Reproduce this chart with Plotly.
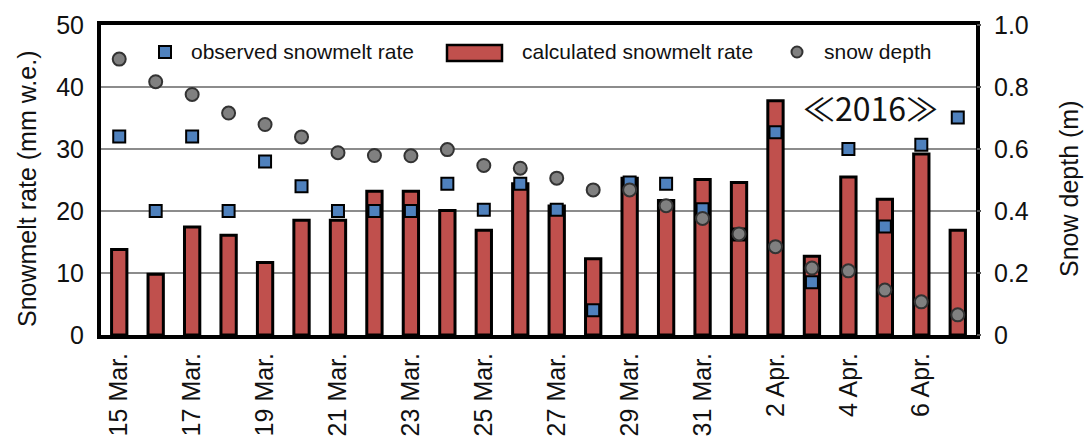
import plotly.graph_objects as go

# Daily values, 15 Mar. - 7 Apr. 2016
days = ["15 Mar.", "16 Mar.", "17 Mar.", "18 Mar.", "19 Mar.", "20 Mar.", "21 Mar.",
        "22 Mar.", "23 Mar.", "24 Mar.", "25 Mar.", "26 Mar.", "27 Mar.", "28 Mar.",
        "29 Mar.", "30 Mar.", "31 Mar.", "1 Apr.", "2 Apr.", "3 Apr.", "4 Apr.",
        "5 Apr.", "6 Apr.", "7 Apr."]

calculated_rate = [13.8, 9.8, 17.4, 16.1, 11.7, 18.5, 18.5, 23.2, 23.2, 20.1, 16.9, 24.4,
                   20.8, 12.3, 25.3, 21.7, 25.1, 24.6, 37.8, 12.7, 25.5, 21.9, 29.2, 16.9]

observed_rate = [32.0, 20.0, 32.0, 20.0, 28.0, 24.0, 20.0, 20.0, 20.0, 24.4, 20.2, 24.4,
                 20.2, 4.0, 24.6, 24.4, 20.3, 16.2, 32.7, 8.5, 30.0, 17.5, 30.7, 35.1]

snow_depth = [0.89, 0.817, 0.776, 0.716, 0.679, 0.639, 0.588, 0.579, 0.578, 0.598, 0.547,
              0.538, 0.506, 0.468, 0.468, 0.417, 0.376, 0.326, 0.285, 0.216, 0.207, 0.145,
              0.107, 0.065]

tick_days = days[::2]
left_ticks = [0, 10, 20, 30, 40, 50]
left_ticktext = ["0", "10", "20", "30", "40", "50"]
right_ticks = [0, 0.2, 0.4, 0.6, 0.8, 1.0]
right_ticktext = ["0", "0.2", "0.4", "0.6", "0.8", "1.0"]

BAR_RED = "#C0504D"
SQ_BLUE = "#4F81BD"
DOT_GRAY = "#808080"
FONT = "Liberation Sans, Arial, sans-serif"
TEXT = "#111111"

fig = go.Figure()

fig.add_trace(go.Bar(
    x=days, y=calculated_rate, name="calculated snowmelt rate",
    width=0.42, marker=dict(color=BAR_RED, line=dict(color="black", width=3)),
    yaxis="y",
))
fig.add_trace(go.Scatter(
    x=days, y=observed_rate, name="observed snowmelt rate", mode="markers",
    marker=dict(symbol="square", size=12, color=SQ_BLUE, line=dict(color="black", width=2)),
    yaxis="y",
))
fig.add_trace(go.Scatter(
    x=days, y=snow_depth, name="snow depth", mode="markers",
    marker=dict(symbol="circle", size=13, color=DOT_GRAY, line=dict(color="#333333", width=2)),
    yaxis="y2",
))

# hand-built legend row inside the plot frame
def px_x(p):
    return (p - 101) / 875

def px_y(p):
    return (335 - p) / 310

legend_y = px_y(52)
shapes = [
    dict(type="rect", xref="paper", yref="paper",
         xsizemode="pixel", ysizemode="pixel", xanchor=px_x(165), yanchor=legend_y,
         x0=-6, x1=6, y0=-6, y1=6,
         fillcolor=SQ_BLUE, line=dict(color="black", width=2)),
    dict(type="rect", xref="paper", yref="paper",
         x0=px_x(447), x1=px_x(502), y0=px_y(61), y1=px_y(45),
         fillcolor=BAR_RED, line=dict(color="black", width=2.5)),
    dict(type="circle", xref="paper", yref="paper",
         xsizemode="pixel", ysizemode="pixel", xanchor=px_x(797), yanchor=legend_y,
         x0=-5.5, x1=5.5, y0=-5.5, y1=5.5,
         fillcolor=DOT_GRAY, line=dict(color="#333333", width=2)),
]

legend_font = dict(family=FONT, size=21, color=TEXT)
annotations = [
    dict(text="observed snowmelt rate", x=px_x(189), y=legend_y, xanchor="left",
         yanchor="middle", showarrow=False, font=legend_font, xref="paper", yref="paper"),
    dict(text="calculated snowmelt rate", x=px_x(520), y=legend_y, xanchor="left",
         yanchor="middle", showarrow=False, font=legend_font, xref="paper", yref="paper"),
    dict(text="snow depth", x=px_x(822), y=legend_y, xanchor="left",
         yanchor="middle", showarrow=False, font=legend_font, xref="paper", yref="paper"),
    dict(text="≪2016≫", x=px_x(870), y=px_y(107), xanchor="center", yanchor="middle",
         showarrow=False, xref="paper", yref="paper",
         font=dict(family="Noto Sans CJK JP, sans-serif", size=32, color=TEXT)),
    dict(text="Snowmelt rate (mm w.e.)", x=px_x(27), y=px_y(189), textangle=-90,
         xanchor="center", yanchor="middle", showarrow=False, xref="paper", yref="paper",
         font=dict(family=FONT, size=25, color=TEXT)),
    dict(text="Snow depth (m)", x=px_x(1069), y=px_y(189), textangle=-90,
         xanchor="center", yanchor="middle", showarrow=False, xref="paper", yref="paper",
         font=dict(family=FONT, size=25, color=TEXT)),
]

fig.update_layout(
    width=1089, height=442,
    margin=dict(l=101, r=113, t=25, b=107),
    paper_bgcolor="white", plot_bgcolor="white",
    showlegend=False,
    bargap=0.5,
    shapes=shapes,
    annotations=annotations,
    xaxis=dict(
        type="category", categoryorder="array", categoryarray=days,
        range=[-0.5, len(days) - 0.5], automargin=False,
        tickmode="array", tickvals=tick_days, ticktext=tick_days,
        tickangle=-90, ticks="", ticklabelstandoff=4,
        tickfont=dict(family=FONT, size=25, color=TEXT),
        showline=True, linecolor="black", linewidth=4, mirror=True,
        showgrid=False, zeroline=False,
    ),
    yaxis=dict(
        range=[0, 50], automargin=False,
        tickmode="array", tickvals=left_ticks, ticktext=left_ticktext,
        tickfont=dict(family=FONT, size=25, color=TEXT),
        ticks="", ticklabelstandoff=8,
        showline=True, linecolor="black", linewidth=4, mirror=True,
        showgrid=True, gridcolor="#8c8c8c", gridwidth=1.5, zeroline=False,
    ),
    yaxis2=dict(
        range=[0, 1.0], overlaying="y", side="right", automargin=False,
        tickmode="array", tickvals=right_ticks, ticktext=right_ticktext,
        tickfont=dict(family=FONT, size=25, color=TEXT),
        ticks="outside", ticklen=4, tickwidth=1.5, tickcolor="#555555",
        ticklabelstandoff=8,
        showgrid=False, zeroline=False, showline=False,
    ),
)

fig.write_html("out.html")
